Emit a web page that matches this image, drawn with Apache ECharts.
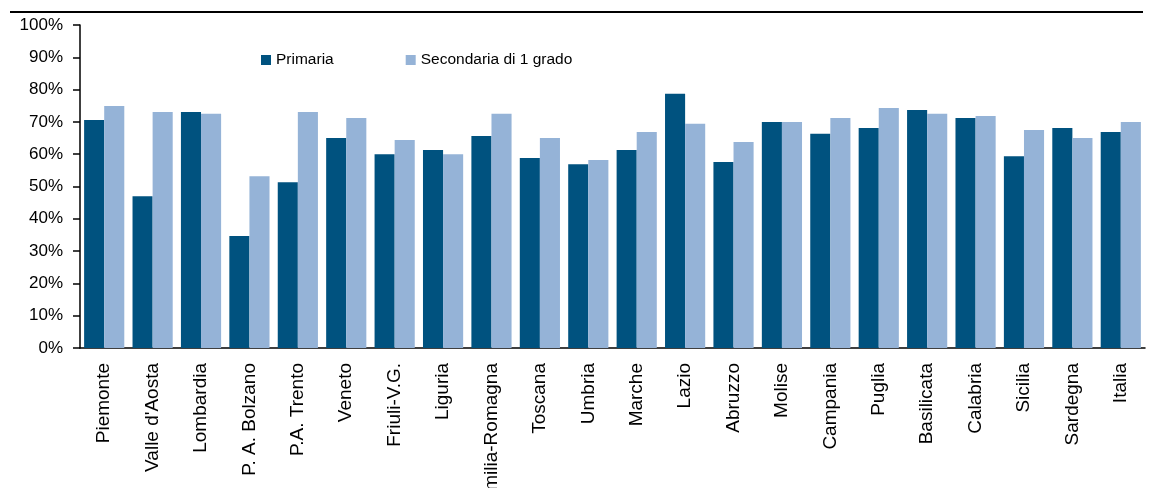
<!DOCTYPE html>
<html>
<head>
<meta charset="utf-8">
<script src="https://cdn.jsdelivr.net/npm/echarts@6/dist/echarts.min.js"></script>
<style>
html,body{margin:0;padding:0;background:#fff;}
#c{width:1154px;height:488px;}
</style>
</head>
<body>
<div id="c"></div>
<script>
const categories = ["Piemonte","Valle d'Aosta","Lombardia","P. A. Bolzano","P.A. Trento","Veneto","Friuli-V.G.","Liguria","Emilia-Romagna","Toscana","Umbria","Marche","Lazio","Abruzzo","Molise","Campania","Puglia","Basilicata","Calabria","Sicilia","Sardegna","Italia"];
const primaria = [70.6,47.0,73.1,34.7,51.3,65.0,60.0,61.3,65.6,58.8,56.9,61.3,78.7,57.6,70.0,66.3,68.1,73.7,71.2,59.4,68.1,66.9];
const secondaria = [74.9,73.1,72.5,53.2,73.1,71.2,64.4,60.0,72.5,65.0,58.2,66.9,69.4,63.8,70.0,71.2,74.3,72.5,71.8,67.5,65.0,70.0];
const seriesNames = ["Primaria","Secondaria di 1 grado"];

const FONT = "'Liberation Sans', Arial, sans-serif";

const chart = echarts.init(document.getElementById('c'), null, {renderer:'canvas'});
chart.setOption({
  animation:false,
  backgroundColor:'#fff',
  textStyle:{fontFamily:FONT},
  graphic:[{type:'line',shape:{x1:10,y1:12,x2:1143,y2:12},style:{stroke:'#000',lineWidth:2}}],
  legend:{
    left:256, top:47, itemWidth:10, itemHeight:10, itemGap:72,
    icon:'rect',
    textStyle:{fontFamily:FONT,fontSize:15.5,color:'#000'},
    data:seriesNames
  },
  grid:{left:80,right:9,top:25,bottom:140,containLabel:false,outerBoundsMode:'none'},
  xAxis:{
    type:'category',
    data:categories,
    axisLine:{lineStyle:{color:'#000',width:1.5}},
    axisTick:{show:false},
    axisLabel:{interval:0,rotate:90,margin:15,fontFamily:FONT,fontSize:19,color:'#000'}
  },
  yAxis:{
    type:'value',min:0,max:100,interval:10,
    axisLine:{show:true,lineStyle:{color:'#000',width:1.5}},
    axisTick:{show:true,length:7,lineStyle:{color:'#000',width:1.5}},
    splitLine:{show:false},
    axisLabel:{formatter:'{value}%',margin:17,fontFamily:FONT,fontSize:17,color:'#000'}
  },
  series:[
    {name:seriesNames[0],type:'bar',data:primaria,barGap:'0%',barCategoryGap:'17%',itemStyle:{color:'#00527F'}},
    {name:seriesNames[1],type:'bar',data:secondaria,barGap:'0%',barCategoryGap:'17%',itemStyle:{color:'#95B3D7'}}
  ]
});
</script>
</body>
</html>
